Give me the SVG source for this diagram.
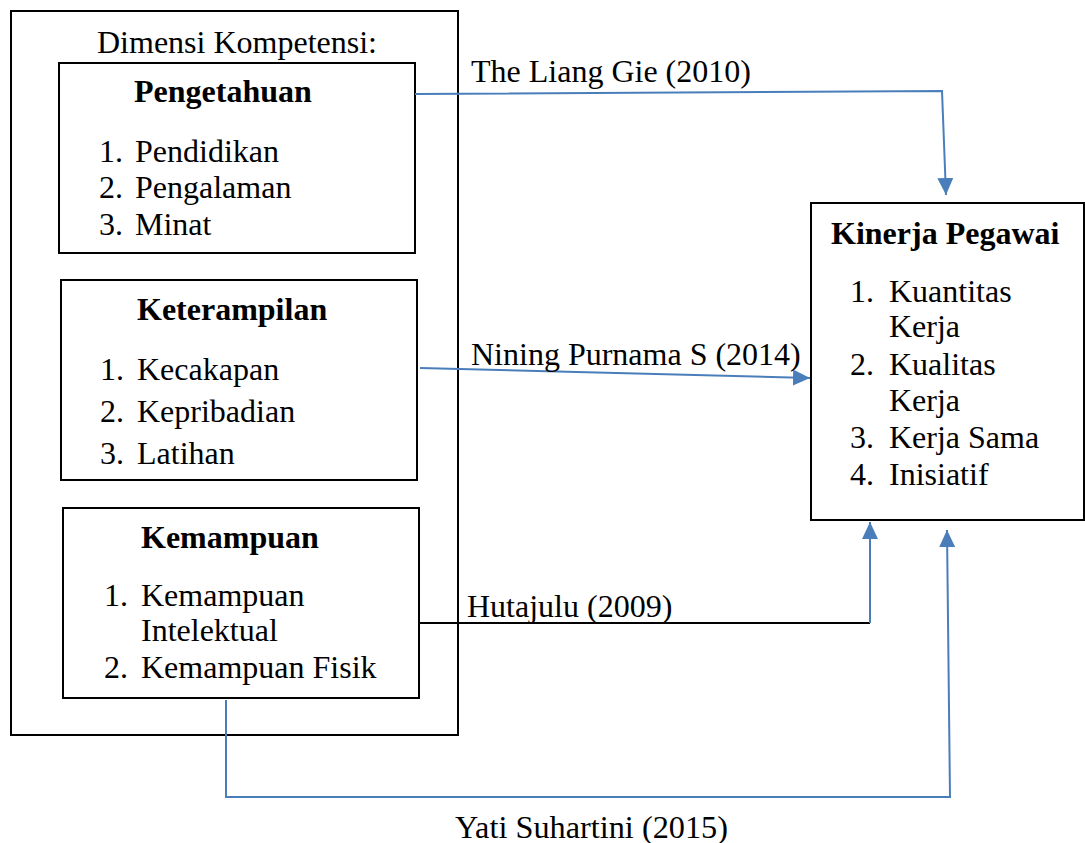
<svg xmlns="http://www.w3.org/2000/svg" width="1085" height="843" viewBox="0 0 1085 843">
<style>
text{font-family:"Liberation Serif","Times New Roman",serif;font-size:32px;fill:#000}
.b{font-weight:bold}
.box{fill:#fff;stroke:#000;stroke-width:2}
.c{fill:none;stroke:#4a7ebb;stroke-width:2}
.k{fill:none;stroke:#000;stroke-width:2}
</style>
<defs>
<marker id="ah" markerUnits="userSpaceOnUse" markerWidth="20" markerHeight="18" refX="17" refY="8" orient="auto">
<path d="M0,0 L17,8 L0,16 z" fill="#4a7ebb"/>
</marker>
</defs>
<rect width="1085" height="843" fill="#fff"/>
<g id="dimensi">
<rect class="box" x="11" y="11" width="447" height="724"/>
<text x="97" y="53">Dimensi Kompetensi:</text>
</g>
<g id="pengetahuan">
<rect class="box" x="59" y="63" width="356" height="190"/>
<text class="b" x="134" y="102">Pengetahuan</text>
<text x="99" y="162">1.</text><text x="135" y="162">Pendidikan</text>
<text x="99" y="198">2.</text><text x="135" y="198">Pengalaman</text>
<text x="99" y="235">3.</text><text x="135" y="235">Minat</text>
</g>
<g id="keterampilan">
<rect class="box" x="61" y="280" width="356" height="200"/>
<text class="b" x="137" y="320">Keterampilan</text>
<text x="100" y="380">1.</text><text x="137" y="380">Kecakapan</text>
<text x="100" y="422">2.</text><text x="137" y="422">Kepribadian</text>
<text x="100" y="464">3.</text><text x="137" y="464">Latihan</text>
</g>
<g id="kemampuan">
<rect class="box" x="63" y="508" width="356" height="190"/>
<text class="b" x="141" y="548">Kemampuan</text>
<text x="104" y="606">1.</text><text x="141" y="606">Kemampuan</text>
<text x="141" y="641">Intelektual</text>
<text x="104" y="678">2.</text><text x="141" y="678">Kemampuan Fisik</text>
</g>
<g id="kinerja">
<rect class="box" x="811" y="203" width="273" height="317"/>
<text class="b" x="831" y="244">Kinerja Pegawai</text>
<text x="850" y="302">1.</text><text x="889" y="302">Kuantitas</text>
<text x="889" y="337">Kerja</text>
<text x="850" y="375">2.</text><text x="889" y="375">Kualitas</text>
<text x="889" y="411">Kerja</text>
<text x="850" y="448">3.</text><text x="889" y="448">Kerja Sama</text>
<text x="850" y="485">4.</text><text x="889" y="485">Inisiatif</text>
</g>
<g id="connectors">
<path class="c" d="M415,94 L942,91 L946,195" marker-end="url(#ah)"/>
<path class="c" d="M420,368 L810,378" marker-end="url(#ah)"/>
<path class="k" d="M419,623 L870,623"/>
<path class="c" d="M870,623 L870,522" marker-end="url(#ah)"/>
<path class="c" d="M226,700 L226,797 L950,797 L947,530" marker-end="url(#ah)"/>
<text x="471" y="82">The Liang Gie (2010)</text>
<text x="471" y="365">Nining Purnama S (2014)</text>
<text x="467" y="617">Hutajulu (2009)</text>
<text x="455" y="838" font-size="33" textLength="273" lengthAdjust="spacingAndGlyphs">Yati Suhartini (2015)</text>
</g>
</svg>
